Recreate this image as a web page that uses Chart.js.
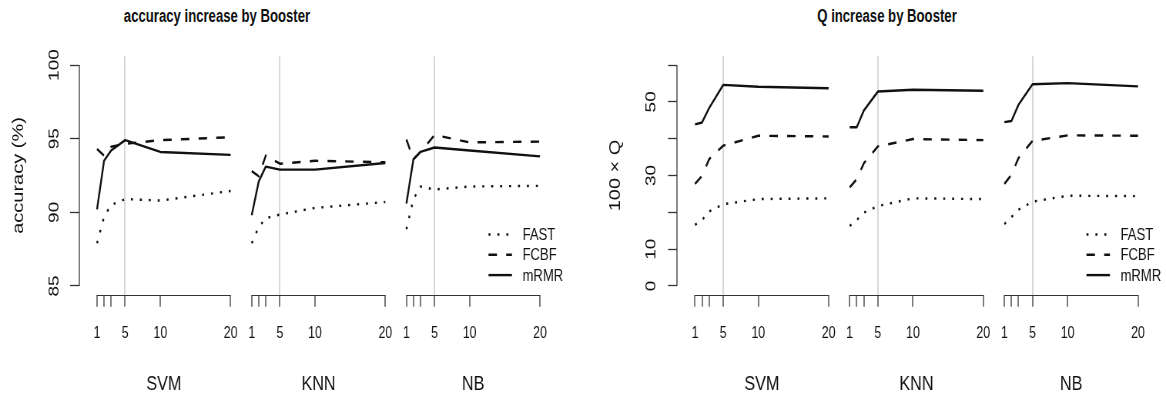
<!DOCTYPE html>
<html>
<head>
<meta charset="utf-8">
<script src="https://cdn.jsdelivr.net/npm/chart.js@4.4.1/dist/chart.umd.min.js"></script>
<style>
  html, body { margin: 0; padding: 0; background: #fff; }
  #wrap { position: relative; width: 1166px; height: 398px; overflow: hidden; }
  canvas { position: absolute; top: 0; transform-origin: 0 0; }
  #chart-acc { left: 0; }
  #chart-q { left: 583px; }
  .title {
    position: absolute; top: 6px; white-space: nowrap; color: #111;
    font: bold 18px 'Liberation Sans', Arial, Helvetica, sans-serif;
    transform: translateX(-50%) scaleX(0.73);
  }
</style>
</head>
<body>
<div id="wrap">
  <div class="title" style="left:217px">accuracy increase by Booster</div>
  <div class="title" style="left:887px">Q increase by Booster</div>
  <canvas id="chart-acc" width="757" height="398"></canvas>
  <canvas id="chart-q" width="757" height="398"></canvas>
</div>
<script>
// ── Data ────────────────────────────────────────────────────────
const groups     = ['SVM', 'KNN', 'NB'];
const nFeatures  = [1, 2, 3, 5, 10, 20];
const xTickShown = [1, 5, 10, 20];
const methods    = ['FAST', 'FCBF', 'mRMR'];

// accuracy (%) — one row per classifier (SVM, KNN, NB), columns follow nFeatures
const accFAST = [
  [87.9, 89.7, 90.5, 90.9, 90.8, 91.45],
  [87.9, 89.0, 89.6, 89.85, 90.3, 90.7],
  [88.85, 90.9, 91.75, 91.55, 91.75, 91.8],
];
const accFCBF = [
  [94.3, 93.85, 94.45, 94.65, 94.9, 95.1],
  [92.8, 92.45, 93.85, 93.3, 93.5, 93.4],
  [94.95, 93.6, 94.1, 95.25, 94.75, 94.8],
];
const accMRMR = [
  [90.2, 93.5, 94.2, 94.9, 94.1, 93.9],
  [89.8, 92.1, 93.1, 92.9, 92.9, 93.35],
  [90.6, 93.6, 94.1, 94.4, 94.2, 93.8],
];
const accTicks      = [85, 90, 95, 100];
const accTickLabels = ['85', '90', '95', '100'];

// 100 x Q
const qFAST = [
  [16.6, 17.9, 20.2, 22.2, 23.6, 23.8],
  [16.3, 17.9, 19.9, 21.7, 23.8, 23.6],
  [16.8, 18.7, 20.7, 22.9, 24.5, 24.4],
];
const qFCBF = [
  [27.7, 29.9, 34.4, 38.1, 40.8, 40.6],
  [26.8, 29.0, 33.3, 37.9, 39.9, 39.6],
  [27.7, 30.2, 34.7, 39.4, 40.9, 40.8],
];
const qMRMR = [
  [43.9, 44.4, 48.3, 54.6, 54.1, 53.7],
  [43.1, 43.1, 47.6, 52.8, 53.3, 53.0],
  [44.5, 44.8, 49.2, 54.8, 55.1, 54.2],
];
const qTicks      = [0, 10, 20, 30, 40, 50, 60];
const qTickLabels = ['0', '10', '', '30', '', '50', ''];

// ── Look ────────────────────────────────────────────────────────
const FONT  = "'Liberation Sans', Arial, Helvetica, sans-serif";
const INK   = '#111';
const AXIS  = '#333';
const GUIDE = '#d8d8d8';
const LINE_W = 2.4;
const LINE = {
  FAST: { dash: [2.6, 9] },
  FCBF: { dash: [11, 12] },
  mRMR: { dash: [] },
};

// the picture is squeezed horizontally, so draw wide and scale down
const PANEL_W = 583;
const CANVAS_W = 757;
const H = 398;
const S = PANEL_W / CANVAS_W;
const AREA_TOP = 56.2;
const AREA_BOTTOM = 294.8;
const GROUP_LABEL_Y = 384;
const LEGEND_Y0 = 234.5;
const LEGEND_STEP = 20.3;

// groups sit side by side on one x axis, GROUP_GAP units apart
const GROUP_GAP = 3;
const span = nFeatures[nFeatures.length - 1] - nFeatures[0] + GROUP_GAP;
const xOf = (gi, n) => n + gi * span;

Chart.defaults.font.family = FONT;
Chart.defaults.color = INK;

// axis segments (R style), classifier names and the legend
const panelDecor = {
  id: 'panelDecor',
  afterDraw(chart, args, opts) {
    const { ctx, chartArea: a, scales: { x, y } } = chart;
    ctx.save();
    ctx.strokeStyle = AXIS;
    ctx.lineWidth = 1.3;

    const yt = opts.yTicks;
    ctx.beginPath();
    ctx.moveTo(Math.round(a.left), y.getPixelForValue(yt[0]));
    ctx.lineTo(Math.round(a.left), y.getPixelForValue(yt[yt.length - 1]));
    ctx.stroke();

    ctx.fillStyle = INK;
    ctx.textAlign = 'center';
    ctx.textBaseline = 'middle';
    ctx.font = `21px ${FONT}`;
    const by = Math.round(a.bottom) + 0.5;
    groups.forEach((g, gi) => {
      const x0 = x.getPixelForValue(xOf(gi, nFeatures[0]));
      const x1 = x.getPixelForValue(xOf(gi, nFeatures[nFeatures.length - 1]));
      ctx.lineWidth = 1;
      ctx.beginPath();
      ctx.moveTo(x0, by);
      ctx.lineTo(x1, by);
      ctx.stroke();
      ctx.fillText(g, (x0 + x1) / 2, GROUP_LABEL_Y);
    });

    // legend, bottom right of the plot
    const tx = a.right - 45.7;
    methods.forEach((m, mi) => {
      const ly = LEGEND_Y0 + mi * LEGEND_STEP;
      ctx.strokeStyle = INK;
      ctx.lineWidth = LINE_W;
      ctx.setLineDash(LINE[m].dash);
      ctx.beginPath();
      ctx.moveTo(tx - 44.2, ly);
      ctx.lineTo(tx - 13.7, ly);
      ctx.stroke();
      ctx.setLineDash([]);
      ctx.textAlign = 'left';
      ctx.font = `17px ${FONT}`;
      ctx.fillText(m, tx, ly + 1);
    });
    ctx.restore();
  },
};

function makePanel(canvasId, p) {
  const canvas = document.getElementById(canvasId);
  canvas.style.transform = `scaleX(${S})`;

  const datasets = [];
  p.series.forEach((rows, mi) => {
    const m = methods[mi];
    rows.forEach((vals, gi) => {
      datasets.push({
        label: `${m} ${groups[gi]}`,
        data: nFeatures.map((n, i) => ({ x: xOf(gi, n), y: vals[i] })),
        borderColor: INK,
        borderWidth: LINE_W,
        borderDash: LINE[m].dash,
        borderJoinStyle: 'round',
        pointRadius: 0,
        fill: false,
        tension: 0,
      });
    });
  });

  const xLo = nFeatures[0];
  const xHi = xOf(groups.length - 1, nFeatures[nFeatures.length - 1]);
  const xPad = 0.04 * (xHi - xLo);
  const yLo = p.yTicks[0];
  const yHi = p.yTicks[p.yTicks.length - 1];
  const yPad = 0.04 * (yHi - yLo);

  return new Chart(canvas, {
    type: 'line',
    data: { datasets },
    plugins: [panelDecor],
    options: {
      responsive: false,
      animation: false,
      layout: {
        padding: {
          top: AREA_TOP,
          left: 0,
          right: (PANEL_W - (p.areaRight - p.screenLeft)) / S,
          bottom: 0,
        },
      },
      scales: {
        x: {
          type: 'linear',
          min: xLo - xPad,
          max: xHi + xPad,
          afterBuildTicks: (s) => {
            s.ticks = groups.flatMap((g, gi) => nFeatures.map(n => ({ value: xOf(gi, n) })));
          },
          afterFit: (s) => { s.height = H - AREA_BOTTOM; },
          border: { display: false },
          grid: {
            drawOnChartArea: true,
            drawTicks: true,
            tickLength: 12,
            lineWidth: 2,
            tickWidth: 1.3,
            tickColor: AXIS,
            color: (c) => nFeatures[c.index % nFeatures.length] === 5 ? GUIDE : 'rgba(0,0,0,0)',
          },
          ticks: {
            autoSkip: false,
            minRotation: 0,
            maxRotation: 0,
            padding: 17,
            color: INK,
            font: { size: 16 },
            callback: (v, i) => {
              const n = nFeatures[i % nFeatures.length];
              return xTickShown.includes(n) ? String(n) : '';
            },
          },
        },
        y: {
          type: 'linear',
          min: yLo - yPad,
          max: yHi + yPad,
          afterBuildTicks: (s) => { s.ticks = p.yTicks.map(v => ({ value: v })); },
          afterFit: (s) => { s.width = (p.axisX - p.screenLeft) / S; },
          border: { display: false },
          grid: { drawOnChartArea: false, tickLength: 12, tickWidth: 1.3, tickColor: AXIS },
          ticks: {
            minRotation: 90,
            maxRotation: 90,
            crossAlign: 'center',
            padding: p.tickPad,
            color: INK,
            font: { size: 19 },
            callback: (v, i) => p.yTickLabels[i],
          },
          title: {
            display: true,
            text: p.yTitle,
            color: INK,
            font: { size: 20 },
            padding: { top: p.titlePad, bottom: 0 },
          },
        },
      },
      plugins: {
        legend: { display: false },
        tooltip: { enabled: false },
        panelDecor: { yTicks: p.yTicks },
      },
    },
  });
}

makePanel('chart-acc', {
  series: [accFAST, accFCBF, accMRMR],
  yTicks: accTicks,
  yTickLabels: accTickLabels,
  yTitle: 'accuracy (%)',
  screenLeft: 0,
  axisX: 79.3,
  areaRight: 557.7,
  titlePad: 12.7,
  tickPad: 4.8,
});

makePanel('chart-q', {
  series: [qFAST, qFCBF, qMRMR],
  yTicks: qTicks,
  yTickLabels: qTickLabels,
  yTitle: '100 \u00d7 Q',
  screenLeft: 583,
  axisX: 677.3,
  areaRight: 1155.7,
  titlePad: 30.9,
  tickPad: 11.6,
});
</script>
</body>
</html>
